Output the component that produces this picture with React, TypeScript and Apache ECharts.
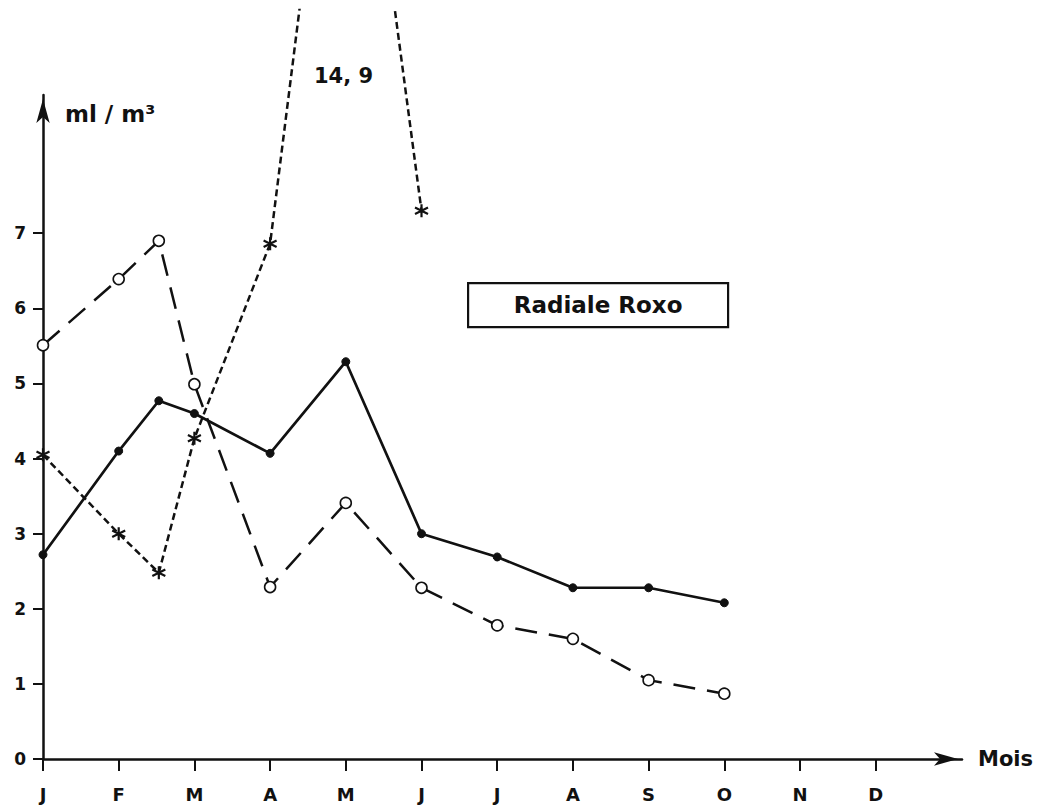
import React, { useEffect, useRef } from "react";
import * as echarts from "echarts";

const months = ["J", "F", "M", "A", "M", "J", "J", "A", "S", "O", "N", "D"];
const monthTicks = [0, 1, 2, 3, 4, 5, 6, 7, 8, 9, 10, 11];
const valueTicks = [0, 1, 2, 3, 4, 5, 6, 7];

const circleX = [0, 1, 1.53, 2, 3, 4, 5, 6, 7, 8, 9];
const filledValues = [2.72, 4.1, 4.77, 4.6, 4.07, 5.29, 3.0, 2.69, 2.28, 2.28, 2.08];
const openValues = [5.51, 6.39, 6.9, 4.99, 2.29, 3.41, 2.28, 1.78, 1.6, 1.05, 0.87];

const starX = [0, 1, 1.53, 2, 3, 4, 5];
const starValues = [4.05, 3.0, 2.48, 4.27, 6.86, 14.9, 7.3];

const peakLabel = "14, 9";
const boxTitle = "Radiale Roxo";
const yTitle = "ml / m³";
const xTitle = "Mois";

const FONT = "'DejaVu Sans', 'Liberation Sans', Arial, sans-serif";
const INK = "#111";

const pairs = (xs: number[], ys: number[]) => xs.map((x, i) => [x, ys[i]]);

export default function App() {
  const ref = useRef<HTMLDivElement>(null);
  useEffect(() => {
    document.body.style.margin = "0";
    const chart = echarts.init(ref.current!, null, { renderer: "svg" });
    const left = 43;
    const right = 90;
    const bottom = 52;
    const xMax = 12.14;
    const option: any = {
      animation: false,
      backgroundColor: "#fff",
      grid: [
        { left, right, bottom, top: 95 },
        { left, right, bottom, top: 10 },
      ],
      xAxis: [
        {
          type: "value",
          gridIndex: 0,
          min: 0,
          max: xMax,
          interval: 1,
          name: xTitle,
          nameLocation: "end",
          nameGap: 16,
          nameTextStyle: { fontFamily: FONT, fontWeight: "bold", fontSize: 21, color: INK, verticalAlign: "middle", align: "left" },
          axisLine: { show: true, lineStyle: { color: INK, width: 2.5 }, symbol: ["none", "arrow"], symbolSize: [10, 24], symbolOffset: [0, -4] },
          axisTick: { show: true, customValues: monthTicks, length: 12, lineStyle: { color: INK, width: 2 } },
          axisLabel: {
            customValues: monthTicks,
            formatter: (v: number) => months[Math.round(v)] ?? "",
            margin: 26,
            fontFamily: FONT,
            fontWeight: "bold",
            fontSize: 18,
            color: INK,
          },
          splitLine: { show: false },
        },
        { type: "value", gridIndex: 1, min: 0, max: xMax, show: false },
      ],
      yAxis: [
        {
          type: "value",
          gridIndex: 0,
          min: 0,
          max: 8.84,
          interval: 1,
          name: yTitle,
          nameLocation: "end",
          nameGap: -30,
          nameTextStyle: { fontFamily: FONT, fontWeight: "bold", fontSize: 23, color: INK, align: "left", verticalAlign: "bottom", padding: [0, 0, 0, 22] },
          axisLine: { show: true, lineStyle: { color: INK, width: 2.5 }, symbol: ["none", "arrow"], symbolSize: [10, 24], symbolOffset: [0, -4] },
          axisTick: { show: true, customValues: valueTicks, length: 10, lineStyle: { color: INK, width: 2 } },
          axisLabel: {
            customValues: valueTicks,
            margin: 17,
            fontFamily: FONT,
            fontWeight: "bold",
            fontSize: 17,
            color: INK,
          },
          splitLine: { show: false },
        },
        { type: "value", gridIndex: 1, min: 0, max: 9.973, show: false },
      ],
      series: [
        {
          type: "line",
          xAxisIndex: 1,
          yAxisIndex: 1,
          data: pairs(starX, starValues),
          clip: true,
          symbol: "path://M0,-6L0,6M-5.2,-3L5.2,3M-5.2,3L5.2,-3",
          symbolSize: 13,
          itemStyle: { color: INK, borderColor: INK, borderWidth: 2.2 },
          lineStyle: { color: INK, width: 2.5, type: [7, 4] },
          z: 3,
        },
        {
          type: "line",
          xAxisIndex: 1,
          yAxisIndex: 1,
          data: pairs(circleX, openValues),
          symbol: "circle",
          symbolSize: 11,
          showAllSymbol: true,
          itemStyle: { color: "#fff", borderColor: INK, borderWidth: 1.6 },
          lineStyle: { color: INK, width: 2.5, type: [22, 12] },
          z: 4,
        },
        {
          type: "line",
          xAxisIndex: 1,
          yAxisIndex: 1,
          data: pairs(circleX, filledValues),
          symbol: "circle",
          symbolSize: 8,
          showAllSymbol: true,
          itemStyle: { color: INK, borderColor: INK, borderWidth: 1 },
          lineStyle: { color: INK, width: 2.7 },
          z: 5,
        },
      ],
      graphic: [
        {
          type: "text",
          left: 314,
          top: 65,
          style: { text: peakLabel, fontFamily: FONT, fontWeight: "bold", fontSize: 21, fill: INK },
        },
        {
          type: "group",
          left: 467,
          top: 282,
          children: [
            { type: "rect", shape: { x: 0, y: 0, width: 260, height: 44 }, style: { fill: "#fff", stroke: INK, lineWidth: 2.2 } },
            {
              type: "text",
              x: 130,
              y: 22,
              style: { text: boxTitle, fontFamily: FONT, fontWeight: "bold", fontSize: 23, fill: INK, align: "center", verticalAlign: "middle" },
            },
          ],
        },
      ],
    };
    chart.setOption(option);
    return () => chart.dispose();
  }, []);
  return <div ref={ref} style={{ width: 1052, height: 811, position: "absolute", left: 0, top: 0 }} />;
}
